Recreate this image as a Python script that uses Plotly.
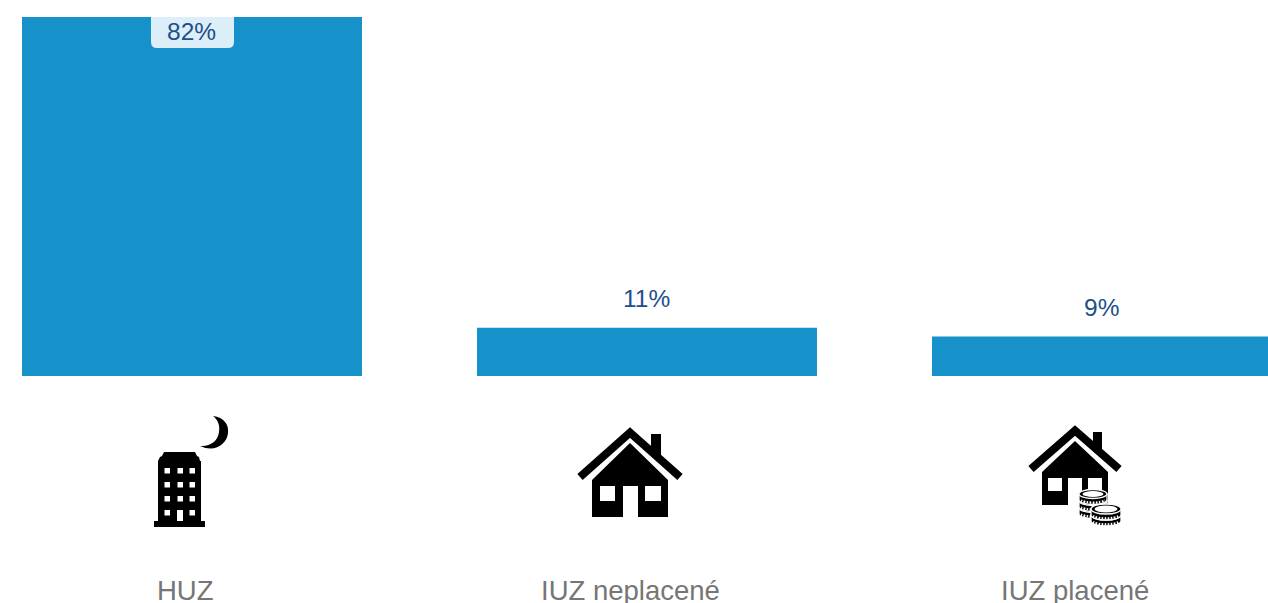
import base64
import plotly.graph_objects as go

categories = ["HUZ", "IUZ neplacené", "IUZ placené"]
values = [82, 11, 9]
value_labels = ["82%", "11%", "9%"]

W, H = 1268, 603
BAR = "#1791ca"
LABEL = "#1c4f8a"
GREY = "#767676"


def uri(svg):
    return "data:image/svg+xml;base64," + base64.b64encode(svg.encode()).decode()


def box(x0, y0, w, h, body):
    """An icon placed with its top-left at the given page pixel."""
    svg = (f'<svg xmlns="http://www.w3.org/2000/svg" width="{w}" height="{h}" '
           f'viewBox="{x0} {y0} {w} {h}">{body}</svg>')
    return dict(source=uri(svg), xref="paper", yref="paper", x=x0 / W, y=1 - y0 / H,
                sizex=w / W, sizey=h / H, xanchor="left", yanchor="top",
                sizing="stretch", layer="above")


def house(cx, apex, half, eave, bx0, bx1, body_apex, shoulder, bottom, win_y0, win_y1,
          wl0, wl1, wr0, wr1, d0, d1, ch0, ch1, ch_top, th):
    roof = (f'<polyline points="{cx-half},{eave} {cx},{apex+th*0.7} {cx+half},{eave}" fill="none" '
            f'stroke="#000" stroke-width="{th}" stroke-linejoin="miter"/>')
    chim = f'<polygon points="{ch0},{ch_top} {ch1},{ch_top} {ch1},{ch_top+24} {ch0},{ch_top+13}" fill="#000"/>'
    body = (f'<path fill="#000" fill-rule="evenodd" d="M{bx0},{bottom} L{bx0},{shoulder} L{cx},{body_apex} '
            f'L{bx1},{shoulder} L{bx1},{bottom} L{d1},{bottom} L{d1},{win_y0} L{d0},{win_y0} L{d0},{bottom} Z '
            f'M{wl0},{win_y0} h{wl1-wl0} v{win_y1-win_y0} h{wl0-wl1} Z '
            f'M{wr0},{win_y0} h{wr1-wr0} v{win_y1-win_y0} h{wr0-wr1} Z"/>')
    return chim + roof + body


# --- building with moon
cells = ""
for y in (468, 482, 496, 510):
    for x in (165, 178, 190):
        if y == 510 and x == 178:
            cells += f'<rect x="{x-1}" y="{y}" width="6" height="11" fill="#fff"/>'
        else:
            cells += f'<rect x="{x-0.5}" y="{y}" width="5.5" height="5.5" fill="#fff"/>'
building = (
    '<path fill="#000" d="M213,416 C224,417 229,425 228,433 C227,444 215,453 200,446 '
    'C210,447 218,441 219,432 C220,425 218,420 213,416 Z"/>'
    '<path fill="#000" d="M164,452 L195,452 L197,456 L199,457 L200,461 L201,461 L201,521 L205,521 '
    'L205,527 L154,527 L154,521 L158,521 L158,461 L160,457 L162,456 Z"/>' + cells
)


# --- coins
def coin_stack(cx, ys, rx, ry, h):
    s = ""
    for k, y in enumerate(ys):
        s += (f'<path d="M{cx-rx},{y} v{h} a{rx},{ry} 0 0 0 {2*rx},0 v{-h} Z" fill="#000" stroke="#fff" stroke-width="1.3"/>'
              f'<ellipse cx="{cx}" cy="{y}" rx="{rx}" ry="{ry}" fill="#000" stroke="#fff" stroke-width="1.3"/>'
              f'<path d="M{cx-rx+2},{y+h*0.5+ry-1} a{rx},{ry} 0 0 0 {2*rx-4},0" fill="none" stroke="#fff" '
              f'stroke-width="2.4" stroke-dasharray="1.6 1.4"/>')
        if k == len(ys) - 1:
            s += f'<ellipse cx="{cx}" cy="{y}" rx="{rx-3.5}" ry="{ry-1.5}" fill="#fff"/>'
    return s


images = [
    box(145, 410, 90, 125, building),
    box(570, 420, 120, 105, house(630, 427, 50, 477, 592, 668, 443, 480, 517, 486, 501,
                                  600, 615, 645, 661, 623, 638, 651, 661, 434, 8)),
    box(1022, 420, 105, 110, house(1075, 425, 44, 469, 1042, 1108, 441, 472, 505, 478, 491,
                                   1048, 1062, 1088, 1102, 1068, 1082, 1093, 1102, 432, 8)
        + coin_stack(1093, [508, 501, 494], 14, 4.5, 6)
        + coin_stack(1106, [515, 509], 15, 5, 6)),
]

fig = go.Figure(go.Bar(x=[0, 1, 2], y=values, width=340 / 455, marker=dict(color=BAR, line=dict(width=0)),
                       hoverinfo="skip"))

# rounded badge behind the first value
x0, x1, y0, y1, r = 151 / W, 234 / W, 1 - 17 / H, 1 - 48 / H, 6
rx, ry = r / W, r / H
fig.add_shape(type="path", xref="paper", yref="paper", layer="above", line=dict(width=0), fillcolor="#dceef7",
              path=f"M{x0},{y0} L{x1},{y0} L{x1},{y1+ry} Q{x1},{y1} {x1-rx},{y1} L{x0+rx},{y1} Q{x0},{y1} {x0},{y1+ry} Z")

for i, (v, t) in enumerate(zip(values, value_labels)):
    inside = i == 0
    fig.add_annotation(x=i, y=v, xref="x", yref="y", text=t, showarrow=False, yanchor="middle",
                       xshift=-1 if inside else -1, yshift=-14 if inside else 29,
                       font=dict(family="Liberation Sans", size=24.5, color=LABEL))

label_x = [185, 630, 1075]
for cx, c in zip(label_x, categories):
    fig.add_annotation(x=cx / W, y=1 - 590.5 / H, xref="paper", yref="paper", text=c, showarrow=False,
                       xanchor="center", yanchor="middle", font=dict(family="Liberation Sans", size=27.5, color=GREY))

fig.update_layout(
    width=W, height=H, margin=dict(l=0, r=0, t=0, b=0), showlegend=False,
    paper_bgcolor="#ffffff", plot_bgcolor="#ffffff", images=images,
    xaxis=dict(visible=False, range=[-192 / 455, (W - 192) / 455]),
    yaxis=dict(visible=False, range=[-(H - 376) / 4.378, 376 / 4.378]),
)
fig.write_html("out.html", config=dict(displayModeBar=False),
               post_script="document.documentElement.style.overflow='hidden';document.body.style.margin='0';")
